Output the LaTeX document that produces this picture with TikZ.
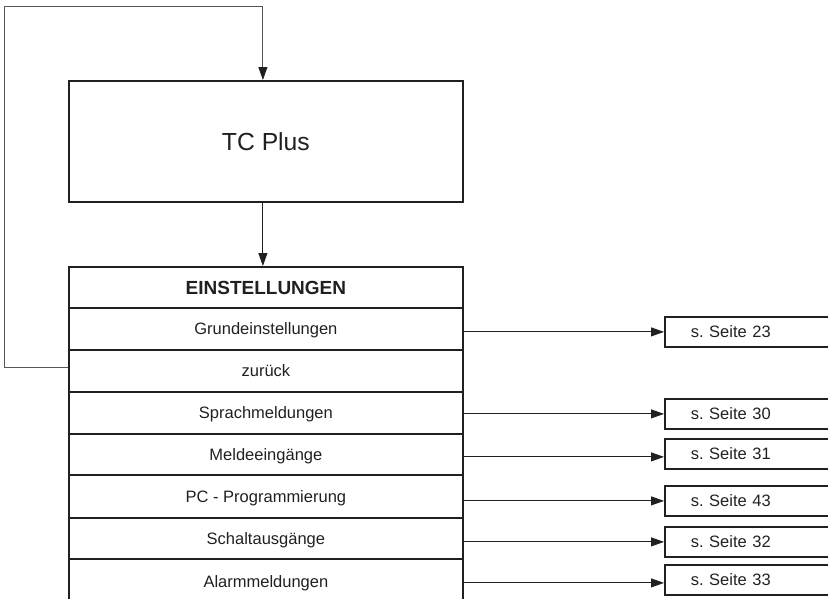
\documentclass[tikz,border=0pt]{standalone}
\usepackage{fontspec}
\setmainfont{Liberation Sans}
\usetikzlibrary{arrows.meta}
\definecolor{ink}{HTML}{231F20}
\definecolor{fbline}{HTML}{555555}
\frenchspacing
\begin{document}
\begin{tikzpicture}[x=1pt,y=-1pt,
  boxst/.style={draw=ink, line width=1.8pt, rectangle, inner sep=0pt, anchor=north west, text=ink},
  rowst/.style={boxst, minimum width=394pt, font=\fontsize{16.5}{18}\selectfont, text height=11.8pt, text depth=0pt},
  headst/.style={boxst, minimum width=394pt, font=\fontsize{19}{21}\selectfont\bfseries, text height=13.6pt, text depth=0pt},
  seitest/.style={boxst, minimum height=30pt, text width=150pt, inner xsep=26pt, align=left, font=\fontsize{16.5}{18}\selectfont\frenchspacing, text height=11.8pt, text depth=0pt},
  conn/.style={draw=ink, line width=0.9pt, -{Triangle[length=13pt,width=9pt]}},
  fbconn/.style={draw=fbline, line width=0.9pt, -{Triangle[length=13pt,width=9pt,color=ink]}}]
\useasboundingbox (0,0) rectangle (828,598);
\clip (0,0) rectangle (828,598);
% main box
\node[boxst, minimum width=394pt, minimum height=121pt, font=\fontsize{24.7}{28}\selectfont] (tc) at (68,80) {TC Plus};
% table
\node[headst, minimum height=41pt] (h) at (68,266) {EINSTELLUNGEN};
\node[rowst, minimum height=42pt] (r1) at (68,307) {Grundeinstellungen};
\node[rowst, minimum height=42pt] (r2) at (68,349) {zurück};
\node[rowst, minimum height=42pt] (r3) at (68,391) {Sprachmeldungen};
\node[rowst, minimum height=41pt] (r4) at (68,433) {Meldeeingänge};
\node[rowst, minimum height=43pt] (r5) at (68,474) {PC - Programmierung};
\node[rowst, minimum height=41pt] (r6) at (68,517) {Schaltausgänge};
\node[rowst, minimum height=46pt] (r7) at (68,558) {Alarmmeldungen};
% page reference boxes
\node[seitest] (b1) at (664,316) {s. Seite 23};
\node[seitest] (b3) at (664,398) {s. Seite 30};
\node[seitest] (b4) at (664,438) {s. Seite 31};
\node[seitest] (b5) at (664,485) {s. Seite 43};
\node[seitest] (b6) at (664,526) {s. Seite 32};
\node[seitest] (b7) at (664,564) {s. Seite 33};
% connectors
\draw[conn] ([xshift=-3pt]tc.south) -- ([xshift=-3pt]tc.south |- h.north);
\draw[conn] (b1.west -| r1.east) -- (b1.west);
\draw[conn] (b3.west -| r3.east) -- (b3.west);
\draw[conn] ([yshift=-3pt]b4.west -| r4.east) -- ([yshift=-3pt]b4.west);
\draw[conn] (b5.west -| r5.east) -- (b5.west);
\draw[conn] (b6.west -| r6.east) -- (b6.west);
\draw[conn] ([yshift=-3pt]b7.west -| r7.east) -- ([yshift=-3pt]b7.west);
% feedback loop
\coordinate (fbcorner) at (4,6);
\draw[fbconn] ([yshift=3pt]r2.west) -| (fbcorner) -| ([xshift=-3pt]tc.north);
\end{tikzpicture}
\end{document}
